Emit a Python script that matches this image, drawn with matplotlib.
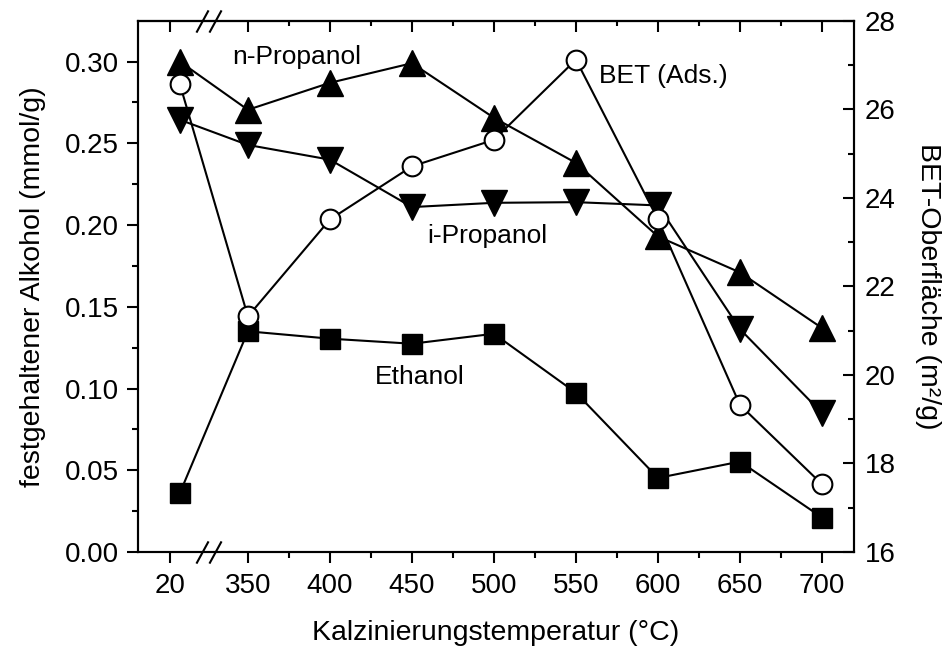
import matplotlib
matplotlib.use("Agg")
import matplotlib.pyplot as plt
from matplotlib.path import Path
from matplotlib.ticker import FixedLocator, NullFormatter

plt.rcParams['font.family'] = ['Liberation Sans', 'DejaVu Sans']

# ---------------- data ----------------
temps = [20, 350, 400, 450, 500, 550, 600, 650, 700]
tick_labels = ["20", "350", "400", "450", "500", "550", "600", "650", "700"]
ethanol = [0.036, 0.135, 0.1305, 0.1274, 0.1335, 0.0974, 0.0453, 0.0553, 0.0211]
n_propanol = [0.300, 0.2705, 0.287, 0.299, 0.2656, 0.238, 0.193, 0.171, 0.137]
i_propanol = [0.2644, 0.249, 0.240, 0.211, 0.2136, 0.214, 0.212, 0.1363, 0.085]
bet = [26.57, 21.32, 23.51, 24.71, 25.31, 27.12, 23.51, 19.32, 17.53]

# broken x axis: room-temperature point is drawn left of the break
RT_DATA_POS = 308.5
RT_TICK_POS = 302.5
BREAK_POS = 326.0


def axis_pos(t, rt):
    return rt if t < 300 else t


x = [axis_pos(t, RT_DATA_POS) for t in temps]
xticks = [axis_pos(t, RT_TICK_POS) for t in temps]
xminor = [375, 425, 475, 525, 575, 625, 675]

fig = plt.figure(figsize=(9.45, 6.51), dpi=100)
ax = fig.add_axes([138 / 945, 99 / 651, (854 - 138) / 945, (552 - 20.7) / 651])
ax2 = ax.twinx()

lw = 1.5
ax.plot(x, ethanol, color='black', lw=lw, marker='s', ms=14.8, mfc='black', mec='black', mew=1, zorder=3)
ax.plot(x, i_propanol, color='black', lw=lw, marker='v', ms=18.5, mfc='black', mec='black', mew=1, zorder=3)
ax.plot(x, n_propanol, color='black', lw=lw, marker='^', ms=18.5, mfc='black', mec='black', mew=1, zorder=3)
ax2.plot(x, bet, color='black', lw=lw, marker='o', ms=14.2, mfc='white', mec='black', mew=1.5, zorder=3)

ax.set_xlim(283, 719.5)
ax.set_ylim(0, 0.325)
ax2.set_ylim(16, 28)

ax.set_xticks(xticks)
ax.set_xticklabels(tick_labels)
ax.xaxis.set_minor_locator(FixedLocator(xminor))
ax.set_yticks([0, 0.05, 0.10, 0.15, 0.20, 0.25, 0.30])
ax.set_yticklabels(["0.00", "0.05", "0.10", "0.15", "0.20", "0.25", "0.30"])
ax.yaxis.set_minor_locator(FixedLocator([0.025, 0.075, 0.125, 0.175, 0.225, 0.275]))
ax2.set_yticks([16, 18, 20, 22, 24, 26, 28])
ax2.yaxis.set_minor_locator(FixedLocator([17, 19, 21, 23, 25, 27]))

fs_tick = 20
ax.tick_params(axis='x', which='major', direction='out', length=8, width=1.5, labelsize=fs_tick, pad=7)
ax.tick_params(axis='y', which='major', direction='out', length=8, width=1.5, labelsize=fs_tick, pad=5.5)
ax.tick_params(axis='both', which='minor', direction='out', length=4.3, width=1.5)
ax2.tick_params(axis='y', which='major', direction='in', length=8, width=1.5, labelsize=fs_tick, pad=8)
ax2.tick_params(axis='y', which='minor', direction='in', length=4.3, width=1.5)

# top ticks pointing inward
sec = ax.secondary_xaxis('top')
sec.set_xticks(xticks)
sec.xaxis.set_minor_locator(FixedLocator(xminor))
sec.xaxis.set_major_formatter(NullFormatter())
sec.tick_params(axis='x', which='major', direction='in', length=8, width=1.5)
sec.tick_params(axis='x', which='minor', direction='in', length=3.8, width=1.5)
sec.spines['top'].set_linewidth(1.5)

for a in (ax, ax2):
    for s in a.spines.values():
        s.set_linewidth(1.5)

fs_lab = 20.5
ax.set_xlabel("Kalzinierungstemperatur (°C)", fontsize=fs_lab, labelpad=15)
ax.set_ylabel("festgehaltener Alkohol (mmol/g)", fontsize=fs_lab, labelpad=14)
ax2.set_ylabel("BET-Oberfläche (m²/g)", fontsize=fs_lab, rotation=270, labelpad=32)

# axis break marks
slash = Path([(-6, -11), (6, 11)], [Path.MOVETO, Path.LINETO])
bt = ax.get_xaxis_transform()
for yy in (0, 1):
    ax.plot([BREAK_POS - 3.7, BREAK_POS + 3.9], [yy, yy], linestyle='none', marker=slash, ms=16,
            mec='black', mfc='none', mew=1.5, transform=bt, clip_on=False, zorder=6)

fs_txt = 19
ax.text(379.7, 0.2987, "n-Propanol", fontsize=fs_txt, ha='center', va='baseline')
ax.text(563.8, 0.2868, "BET (Ads.)", fontsize=fs_txt, ha='left', va='baseline')
ax.text(496.2, 0.1889, "i-Propanol", fontsize=fs_txt, ha='center', va='baseline')
ax.text(455.0, 0.1028, "Ethanol", fontsize=fs_txt, ha='center', va='baseline')

fig.savefig("out.png", dpi=100)
